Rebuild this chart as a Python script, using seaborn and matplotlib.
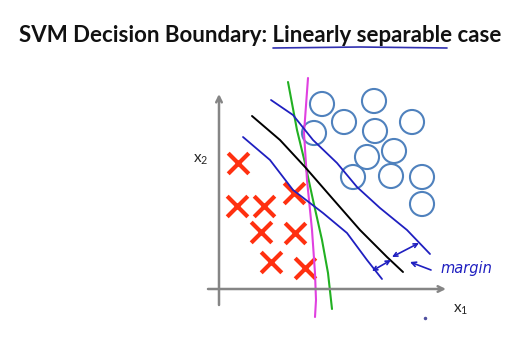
import matplotlib
matplotlib.use("Agg")
import matplotlib.pyplot as plt
import seaborn as sns
import pandas as pd

sns.set_style("white")
plt.rcParams['font.family'] = ['Lato', 'DejaVu Sans']

# Data (slide pixel coordinates, y downwards)
cross_x = [238, 237, 264, 294, 261, 295, 271, 305]
cross_y = [163, 206, 206, 193, 232, 233, 262, 268]
circle_x = [322, 374, 344, 375, 412, 314, 394, 367, 353, 391, 422, 422]
circle_y = [104, 101, 122, 131, 122, 133, 151, 157, 177, 176, 177, 204]

black_x = [252, 280, 305, 332, 360, 387, 403]
black_y = [116, 140, 167, 198, 230, 257, 272]
upper_x = [271, 293, 313, 337, 357, 380, 407, 430]
upper_y = [100, 115, 140, 163, 187, 208, 230, 254]
lower_x = [243, 270, 293, 323, 347, 367, 382]
lower_y = [137, 160, 190, 213, 233, 260, 279]
green_x = [288, 297, 305, 313, 322, 328, 332]
green_y = [82, 130, 163, 200, 240, 273, 309]
magenta_x = [308, 304, 307, 312, 315, 316, 315]
magenta_y = [78, 133, 180, 230, 273, 300, 317]

title = "SVM Decision Boundary: Linearly separable case"

fig = plt.figure(figsize=(5.21, 3.52), dpi=100)
ax = fig.add_axes([0, 0, 1, 1])
ax.set_xlim(0, 521)
ax.set_ylim(352, 0)
ax.axis('off')

# axes arrows
ax.annotate('', xy=(219, 94), xytext=(219, 305),
            arrowprops=dict(arrowstyle='->', color='#858585', lw=1.8,
                            shrinkA=0, shrinkB=0))
ax.annotate('', xy=(446, 289), xytext=(208, 289),
            arrowprops=dict(arrowstyle='->', color='#858585', lw=1.8,
                            shrinkA=0, shrinkB=0))

def line(xs, ys, color, lw=1.3):
    df = pd.DataFrame({'x': xs, 'y': ys})
    sns.lineplot(data=df, x='x', y='y', sort=False, estimator=None,
                 color=color, lw=lw, ax=ax)

line(green_x, green_y, '#22b022', 1.5)
line(magenta_x, magenta_y, '#e040e0', 1.5)
line(black_x, black_y, '#000000', 1.4)
line(upper_x, upper_y, '#1f1fc0', 1.3)
line(lower_x, lower_y, '#1f1fc0', 1.3)

sns.scatterplot(x=circle_x, y=circle_y, ax=ax, s=300, marker='o',
                facecolor='none', edgecolor='#4f81bd', linewidth=1.5)
sns.scatterplot(x=cross_x, y=cross_y, ax=ax, s=220, marker='x',
                color='#ff3010', linewidth=3)

# margin arrows
arr = dict(arrowstyle='<->', color='#1f1fc0', lw=1.2, shrinkA=0, shrinkB=0,
           mutation_scale=7)
ax.annotate('', xy=(372, 271), xytext=(391, 260), arrowprops=arr)
ax.annotate('', xy=(392, 257), xytext=(419, 243), arrowprops=arr)
ax.annotate('', xy=(410, 262), xytext=(431, 270),
            arrowprops=dict(arrowstyle='->', color='#1f1fc0', lw=1.2,
                            shrinkA=0, shrinkB=0, mutation_scale=8))
ax.text(440, 268, 'margin', color='#1f1fc0', fontsize=10.5, style='italic',
        va='center', ha='left', family=['DejaVu Sans'])

ax.text(201, 160, '$\\mathregular{x_2}$', fontsize=11, ha='center', va='center')
ax.text(461, 310, '$\\mathregular{x_1}$', fontsize=11, ha='center', va='center')
ax.plot([425], [318], marker='o', color='#5050a0', ms=1.5)

ax.text(260, 42, title, fontsize=16, fontweight='bold', ha='center',
        va='baseline', color='#111111')
ax.plot([273, 360, 447], [48, 47, 48], color='#3030b0', lw=1.2)

fig.savefig('out.png', dpi=100)
